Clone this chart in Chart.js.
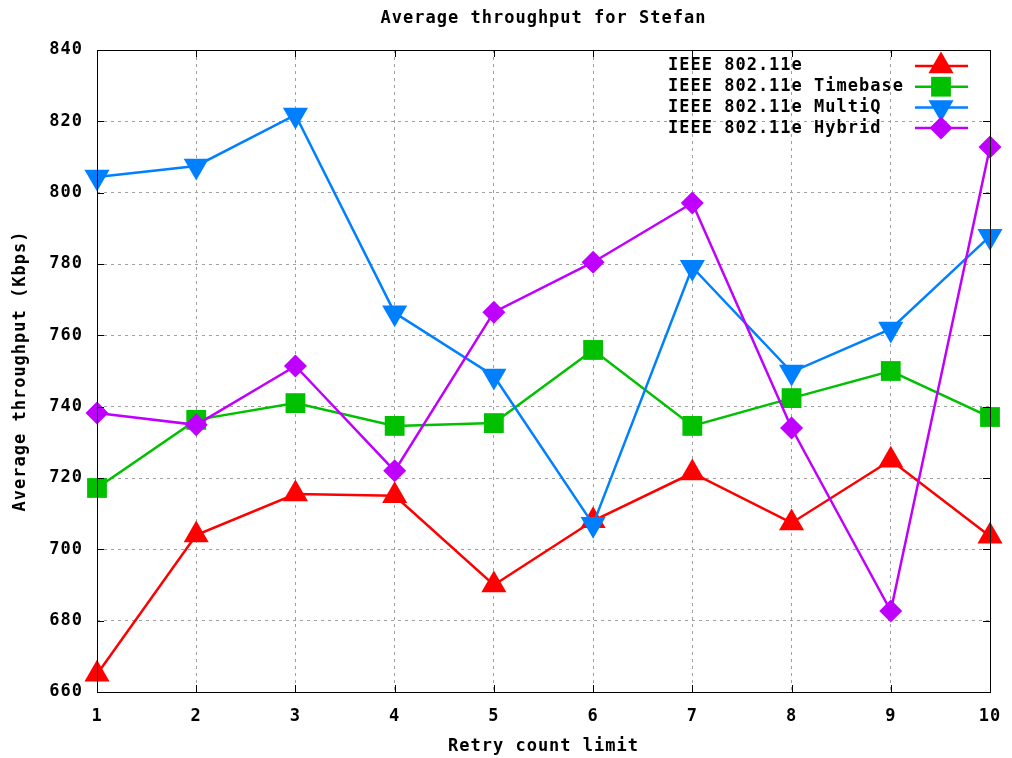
<!DOCTYPE html>
<html>
<head>
<meta charset="utf-8">
<script src="https://cdn.jsdelivr.net/npm/chart.js@4"></script>
<style>
html, body { margin: 0; padding: 0; background: #fff; }
#wrap { width: 1012px; height: 758px; }
</style>
</head>
<body>
<div id="wrap"><canvas id="chart" width="1012" height="758"></canvas></div>
<script>
// values
var retryLimits = ["1", "2", "3", "4", "5", "6", "7", "8", "9", "10"];
var ieee = [665, 704, 715.5, 715, 690, 708, 721.4, 707.4, 725, 703.7];
var timebase = [717.2, 736.3, 741, 734.6, 735.4, 755.9, 734.6, 742.4, 750, 737.1];
var multiQ = [804.4, 807.5, 821.8, 766.3, 748.6, 707, 779.1, 749.7, 761.8, 787.8];
var hybrid = [738.2, 734.9, 751.4, 722, 766.5, 780.5, 797.1, 734, 682.7, 812.8];
var seriesNames = ["IEEE 802.11e", "IEEE 802.11e Timebase", "IEEE 802.11e MultiQ", "IEEE 802.11e Hybrid"];
var yMin = 660, yMax = 840, yStep = 20;

var FONT = "'DejaVu Sans Mono', monospace";
Chart.defaults.font.family = FONT;
Chart.defaults.font.size = 17;
Chart.defaults.font.weight = "bold";
Chart.defaults.color = "#000";

function series(label, data, color, style, radius, rotation, order) {
  return {
    label: label,
    data: data,
    borderColor: color,
    backgroundColor: color,
    borderWidth: 2.5,
    pointStyle: style,
    pointRadius: radius,
    pointHoverRadius: radius,
    pointRotation: rotation,
    pointBorderWidth: 0,
    tension: 0,
    clip: false,
    order: order
  };
}

var datasets = [
  series(seriesNames[0], ieee, "#ff0000", "triangle", 14.5, 0, 4),
  series(seriesNames[1], timebase, "#00c000", "rect", 14, 0, 3),
  series(seriesNames[2], multiQ, "#0080ff", "triangle", 14.5, 180, 2),
  series(seriesNames[3], hybrid, "#c000ff", "rectRot", 11.5, 0, 1)
];

// wider glyphs like the gnuplot bitmap font
function spacing(chart) { chart.ctx.letterSpacing = "1px"; }

// frame + inward tick marks, like gnuplot
var framePlugin = {
  id: "frame",
  beforeLayout: spacing,
  beforeDraw: spacing,
  afterDatasetsDraw: function (chart) {
    var ctx = chart.ctx, a = chart.chartArea;
    var xs = chart.scales.x, ys = chart.scales.y;
    ctx.save();
    ctx.strokeStyle = "#000";
    ctx.lineWidth = 1;
    ctx.beginPath();
    xs.ticks.forEach(function (t, i) {
      var px = Math.round(xs.getPixelForTick(i)) + 0.5;
      ctx.moveTo(px, a.bottom); ctx.lineTo(px, a.bottom - 7);
      ctx.moveTo(px, a.top); ctx.lineTo(px, a.top + 7);
    });
    ys.ticks.forEach(function (t, i) {
      var py = Math.round(ys.getPixelForTick(i)) + 0.5;
      ctx.moveTo(a.left, py); ctx.lineTo(a.left + 7, py);
      ctx.moveTo(a.right, py); ctx.lineTo(a.right - 7, py);
    });
    ctx.stroke();
    ctx.strokeRect(Math.round(a.left) + 0.5, Math.round(a.top) + 0.5,
      Math.round(a.right - a.left), Math.round(a.bottom - a.top));
    ctx.restore();
  },
  afterDraw: function (chart) {
    // key in the top right, text first then sample
    var ctx = chart.ctx;
    ctx.save();
    ctx.font = "bold 17px " + FONT;
    ctx.letterSpacing = "1px";
    ctx.textAlign = "left";
    ctx.textBaseline = "middle";
    chart.data.datasets.forEach(function (ds, i) {
      var y = 66 + i * 20.7;
      ctx.fillStyle = "#000";
      ctx.fillText(ds.label, 668, y);
      ctx.strokeStyle = ds.borderColor;
      ctx.lineWidth = 2.5;
      ctx.beginPath();
      ctx.moveTo(915, y); ctx.lineTo(968, y);
      ctx.stroke();
      ctx.fillStyle = ds.backgroundColor;
      Chart.helpers.drawPoint(ctx, {
        pointStyle: ds.pointStyle,
        radius: ds.pointRadius,
        rotation: ds.pointRotation,
        borderWidth: 0
      }, 941, y);
    });
    ctx.restore();
  }
};

new Chart(document.getElementById("chart"), {
  type: "line",
  data: { labels: retryLimits, datasets: datasets },
  options: {
    responsive: false,
    animation: false,
    layout: { padding: { left: 0, right: 22, top: 0, bottom: 0 } },
    plugins: {
      legend: { display: false },
      tooltip: { enabled: false },
      title: {
        display: true,
        fullSize: false,
        text: "Average throughput for Stefan",
        color: "#000",
        font: { size: 17, weight: "bold" },
        padding: { top: 8, bottom: 21.6 }
      }
    },
    scales: {
      x: {
        type: "category",
        offset: false,
        afterFit: function (s) { s.height = 66; s.paddingLeft = 0; s.paddingRight = 0; },
        grid: { color: "#a0a0a0", drawTicks: false },
        border: { display: false, dash: [3, 4] },
        ticks: { padding: 14, color: "#000", maxRotation: 0 },
        title: {
          display: true,
          text: "Retry count limit",
          color: "#000",
          padding: { top: 0, bottom: 1 }
        }
      },
      y: {
        min: yMin,
        max: yMax,
        afterFit: function (s) { s.width = 97; },
        grid: { color: "#a0a0a0", drawTicks: false },
        border: { display: false, dash: [3, 4] },
        ticks: { stepSize: yStep, padding: 14, color: "#000" },
        title: {
          display: true,
          text: "Average throughput (Kbps)",
          color: "#000",
          padding: { top: 10, bottom: 10 }
        }
      }
    }
  },
  plugins: [framePlugin]
});
</script>
</body>
</html>
